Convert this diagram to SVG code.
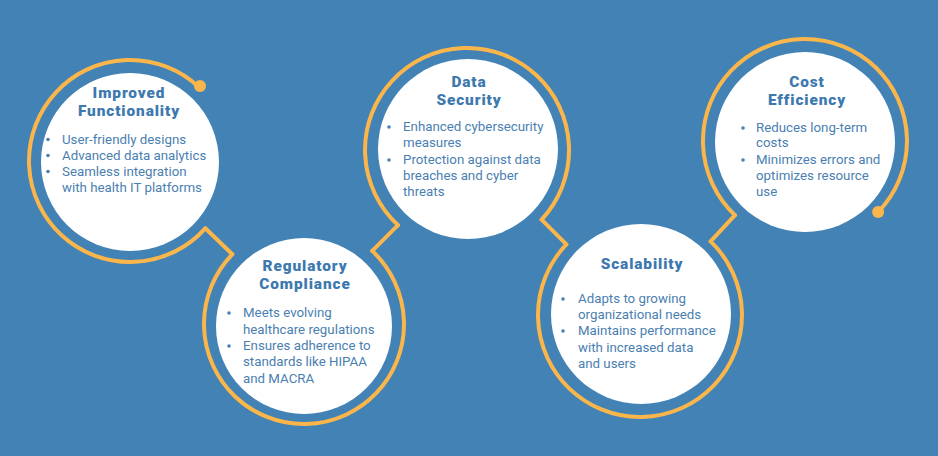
<svg xmlns="http://www.w3.org/2000/svg" width="938" height="456" viewBox="0 0 938 456">
<style>
.bg{fill:#4282b4}
.disc{fill:#ffffff}
.ring{fill:none;stroke:#fbb64b;stroke-width:4;stroke-linecap:round;stroke-linejoin:round}
.dot{fill:#fbb64b}
.title{font-family:Roboto,"Open Sans",sans-serif;font-weight:900;font-size:15.4px;letter-spacing:0.9px;fill:#3d79ae;text-anchor:middle}
.body{font-family:Roboto,"Open Sans",sans-serif;font-size:13.3px;fill:#4a80b1}
.bul{fill:#4a80b1}
</style>
<rect class="bg" x="0" y="0" width="938" height="456"/>
<g id="connectors">
<polyline class="ring" points="205.3,228.3 232.3,254.3"/>
<polyline class="ring" points="372.2,250.9 398,225.1"/>
<polyline class="ring" points="541.6,219.6 566.4,244.4"/>
<polyline class="ring" points="710.6,241.4 735,215.2"/>
</g>
<g id="node-improved-functionality">
<path class="ring" d="M199,87.2 A101,101 0 1 0 205.3,228.3"/>
<circle class="dot" cx="200" cy="86" r="6"/>
<circle class="disc" cx="130" cy="162" r="89"/>
<text class="title" x="129" y="98">Improved</text>
<text class="title" x="129" y="116">Functionality</text>
<circle class="bul" cx="48" cy="139.5" r="1.8"/>
<circle class="bul" cx="48" cy="155.5" r="1.8"/>
<circle class="bul" cx="48" cy="171.5" r="1.8"/>
<text class="body" x="62" y="144">User-friendly designs</text>
<text class="body" x="62" y="160">Advanced data analytics</text>
<text class="body" x="62" y="176">Seamless integration</text>
<text class="body" x="62" y="192">with health IT platforms</text>
</g>
<g id="node-regulatory-compliance">
<path class="ring" d="M232.3,254.3 A100,100 0 1 0 372.2,250.9"/>
<circle class="disc" cx="304" cy="326" r="88"/>
<text class="title" x="305" y="271">Regulatory</text>
<text class="title" x="305" y="289">Compliance</text>
<circle class="bul" cx="229" cy="313" r="1.8"/>
<circle class="bul" cx="229" cy="346" r="1.8"/>
<text class="body" x="243" y="317">Meets evolving</text>
<text class="body" x="243" y="334">healthcare regulations</text>
<text class="body" x="243" y="350">Ensures adherence to</text>
<text class="body" x="243" y="366">standards like HIPAA</text>
<text class="body" x="243" y="383">and MACRA</text>
</g>
<g id="node-data-security">
<path class="ring" d="M398,225.1 A102,102 0 1 1 541.6,219.6"/>
<circle class="disc" cx="468" cy="149" r="90"/>
<text class="title" x="469" y="87">Data</text>
<text class="title" x="469" y="105">Security</text>
<circle class="bul" cx="389" cy="127" r="1.8"/>
<circle class="bul" cx="389" cy="160" r="1.8"/>
<text class="body" x="403" y="131">Enhanced cybersecurity</text>
<text class="body" x="403" y="147">measures</text>
<text class="body" x="403" y="164">Protection against data</text>
<text class="body" x="403" y="180">breaches and cyber</text>
<text class="body" x="403" y="196">threats</text>
</g>
<g id="node-scalability">
<path class="ring" d="M566.4,244.4 A102,102 0 1 0 710.6,241.4"/>
<circle class="disc" cx="641" cy="314" r="90"/>
<text class="title" x="642" y="269">Scalability</text>
<circle class="bul" cx="563" cy="299" r="1.8"/>
<circle class="bul" cx="563" cy="331" r="1.8"/>
<text class="body" x="578" y="303">Adapts to growing</text>
<text class="body" x="578" y="319">organizational needs</text>
<text class="body" x="578" y="335">Maintains performance</text>
<text class="body" x="578" y="352">with increased data</text>
<text class="body" x="578" y="368">and users</text>
</g>
<g id="node-cost-efficiency">
<path class="ring" d="M735,215.2 A102,102 0 1 1 878.1,212.1"/>
<circle class="dot" cx="878.1" cy="212.1" r="6"/>
<circle class="disc" cx="805" cy="142" r="90"/>
<text class="title" x="807" y="87">Cost</text>
<text class="title" x="807" y="105">Efficiency</text>
<circle class="bul" cx="743" cy="128" r="1.8"/>
<circle class="bul" cx="743" cy="160" r="1.8"/>
<text class="body" x="756" y="132">Reduces long-term</text>
<text class="body" x="756" y="147">costs</text>
<text class="body" x="756" y="164">Minimizes errors and</text>
<text class="body" x="756" y="180">optimizes resource</text>
<text class="body" x="756" y="196">use</text>
</g>
</svg>
